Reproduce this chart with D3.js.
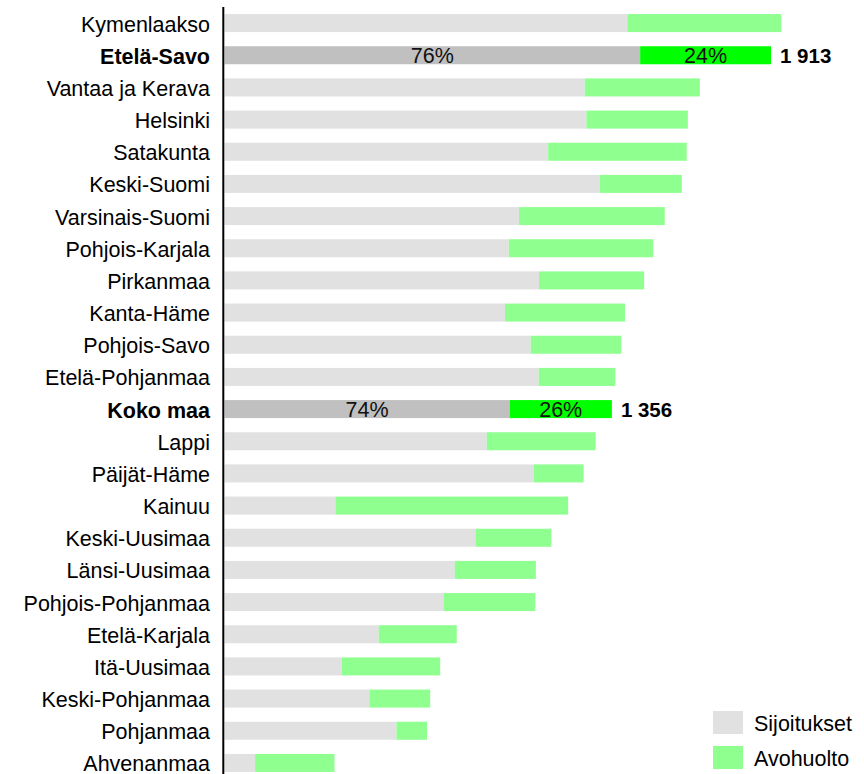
<!DOCTYPE html>
<html>
<head>
<meta charset="utf-8">
<script src="https://cdn.jsdelivr.net/npm/d3@7"></script>
<style>
  html, body { margin: 0; padding: 0; background: #fff; }
  svg { display: block; font-family: "Liberation Sans", Arial, sans-serif; }
</style>
</head>
<body>
<svg id="chart" width="864" height="774"></svg>
<script>
const categories = ["Kymenlaakso","Etelä-Savo","Vantaa ja Kerava","Helsinki","Satakunta","Keski-Suomi","Varsinais-Suomi","Pohjois-Karjala","Pirkanmaa","Kanta-Häme","Pohjois-Savo","Etelä-Pohjanmaa","Koko maa","Lappi","Päijät-Häme","Kainuu","Keski-Uusimaa","Länsi-Uusimaa","Pohjois-Pohjanmaa","Etelä-Karjala","Itä-Uusimaa","Keski-Pohjanmaa","Pohjanmaa","Ahvenanmaa"];
const sijoitukset = [1410,1455,1261,1267,1133,1313,1031,995,1101,982,1072,1100,998,918,1082,388,878,806,767,540,410,507,602,107];
const avohuolto   = [539,458,403,355,485,288,510,506,368,420,317,268,358,381,175,815,266,284,321,273,345,213,107,278];
const highlighted = ["Etelä-Savo","Koko maa"];
const seriesNames = ["Sijoitukset","Avohuolto"];

const colors = { sij: "#e1e1e1", avo: "#8fff8f", sijHi: "#c0c0c0", avoHi: "#00ff00" };

const svg = d3.select("#chart");
const data = categories.map((c, i) => ({ name: c, sij: sijoitukset[i], avo: avohuolto[i], hi: highlighted.includes(c) }));

const x = d3.scaleLinear().domain([0, 1913]).range([224.5, 771]);
const y = d3.scaleBand().domain(categories).range([7, 779]).paddingInner(0.44).paddingOuter(0.22);
const fmt = d3.formatLocale({ decimal: ",", thousands: " ", grouping: [3], currency: ["", "€"] }).format(",d");

const g = svg.append("g");
const rows = g.selectAll("g.row").data(data).join("g").attr("class", "row");

rows.append("rect")
  .attr("x", d => x(0)).attr("y", d => y(d.name))
  .attr("width", d => x(d.sij) - x(0)).attr("height", y.bandwidth())
  .attr("fill", d => d.hi ? colors.sijHi : colors.sij);

rows.append("rect")
  .attr("x", d => x(d.sij)).attr("y", d => y(d.name))
  .attr("width", d => x(d.sij + d.avo) - x(d.sij)).attr("height", y.bandwidth())
  .attr("fill", d => d.hi ? colors.avoHi : colors.avo);

// category labels
rows.append("text")
  .attr("x", 210).attr("y", d => y(d.name) + y.bandwidth() / 2 + 8.5)
  .attr("text-anchor", "end")
  .attr("font-size", 21.5)
  .attr("font-weight", d => d.hi ? "bold" : "normal")
  .attr("fill", "#000")
  .text(d => d.name);

// highlighted labels
const hi = rows.filter(d => d.hi);
hi.append("text")
  .attr("x", d => (x(0) + x(d.sij)) / 2).attr("y", d => y(d.name) + y.bandwidth() / 2 + 8)
  .attr("text-anchor", "middle").attr("font-size", 21.5).attr("fill", "#111")
  .text(d => Math.round(100 * d.sij / (d.sij + d.avo)) + "%");
hi.append("text")
  .attr("x", d => (x(d.sij) + x(d.sij + d.avo)) / 2).attr("y", d => y(d.name) + y.bandwidth() / 2 + 8)
  .attr("text-anchor", "middle").attr("font-size", 21.5).attr("fill", "#111")
  .text(d => Math.round(100 * d.avo / (d.sij + d.avo)) + "%");
hi.append("text")
  .attr("x", d => x(d.sij + d.avo) + 9).attr("y", d => y(d.name) + y.bandwidth() / 2 + 8)
  .attr("font-size", 20.5).attr("font-weight", "bold").attr("fill", "#000")
  .text(d => fmt(d.sij + d.avo));

// axis line
svg.append("line")
  .attr("x1", 223.3).attr("x2", 223.3).attr("y1", 7).attr("y2", 774)
  .attr("stroke", "#000").attr("stroke-width", 2);

// legend
const legend = svg.append("g");
const legendColors = [colors.sij, colors.avo];
seriesNames.forEach((s, i) => {
  legend.append("rect").attr("x", 713).attr("y", 711 + i * 35).attr("width", 30).attr("height", 23).attr("fill", legendColors[i]);
  legend.append("text").attr("x", 754).attr("y", 711 + i * 35 + 19.5).attr("font-size", 21.5).attr("fill", "#000").text(s);
});
</script>
</body>
</html>
